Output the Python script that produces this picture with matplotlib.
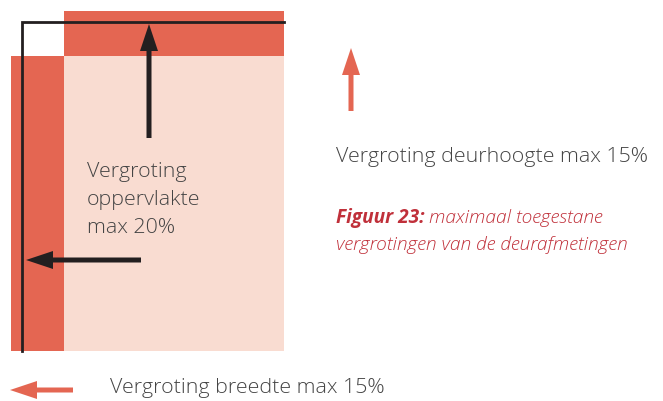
import matplotlib.pyplot as plt
from matplotlib.patches import Rectangle, FancyArrow

# Diagram layout in pixel units (origin top-left)
dark_red = "#e46652"
light_pink = "#f9dcd1"
text_grey = "#444444"
caption_red = "#c0303a"

# enlarged-area blocks: (x, y, width, height, colour)
blocks_x = [64, 11, 64]
blocks_y = [11, 56, 56]
blocks_w = [220, 53, 220]
blocks_h = [45, 295, 295]
blocks_c = [dark_red, dark_red, light_pink]

# original door outline
frame_x = [22, 22, 284]
frame_y = [351, 22, 22]

# arrows: (x_start, y_start, dx, dy, colour, width)
arrows = [
    (149, 138, 0, -114, "#231f20", 5),
    (141, 260, -115, 0, "#231f20", 5),
    (351, 111, 0, -63, dark_red, 5),
    (73, 390, -63, 0, dark_red, 5),
]

labels = [
    (87, 172, "Vergroting"),
    (87, 200, "oppervlakte"),
    (87, 228, "max 20%"),
    (336, 157, "Vergroting deurhoogte max 15%"),
    (110, 388, "Vergroting breedte max 15%"),
]

fig = plt.figure(figsize=(6.63, 4.01), dpi=100)
ax = fig.add_axes([0, 0, 1, 1])
ax.set_xlim(0, 663)
ax.set_ylim(401, 0)
ax.axis("off")

for x, y, w, h, c in zip(blocks_x, blocks_y, blocks_w, blocks_h, blocks_c):
    ax.add_patch(Rectangle((x, y), w, h, facecolor=c, edgecolor="none"))

ax.plot(frame_x, frame_y, color="#231f20", lw=2.0, solid_joinstyle="miter")

for x, y, dx, dy, c, w in arrows:
    ax.add_patch(FancyArrow(x, y, dx, dy, width=w, head_width=18, head_length=27,
                            length_includes_head=True, color=c, lw=0))

for x, y, s in labels:
    ax.text(x, y, s, fontsize=15.4, color=text_grey, family="Open Sans",
            fontweight="light", va="center", ha="left")

# caption: bold "Figuur 23:" followed by light italic text
cap_fs = 13.8
t = ax.text(336, 218, "Figuur 23:", fontsize=cap_fs, color=caption_red, family="Open Sans",
            style="italic", fontweight="bold", va="center", ha="left")
fig.canvas.draw()
bb = t.get_window_extent()
x_next = ax.transData.inverted().transform((bb.x1, bb.y0))[0] + 4
ax.text(x_next, 218, "maximaal toegestane", fontsize=cap_fs, color=caption_red,
        family="Open Sans", style="italic", fontweight="light", va="center", ha="left")
ax.text(336, 245, "vergrotingen van de deurafmetingen", fontsize=cap_fs, color=caption_red,
        family="Open Sans", style="italic", fontweight="light", va="center", ha="left")

fig.savefig("out.png", dpi=100)
